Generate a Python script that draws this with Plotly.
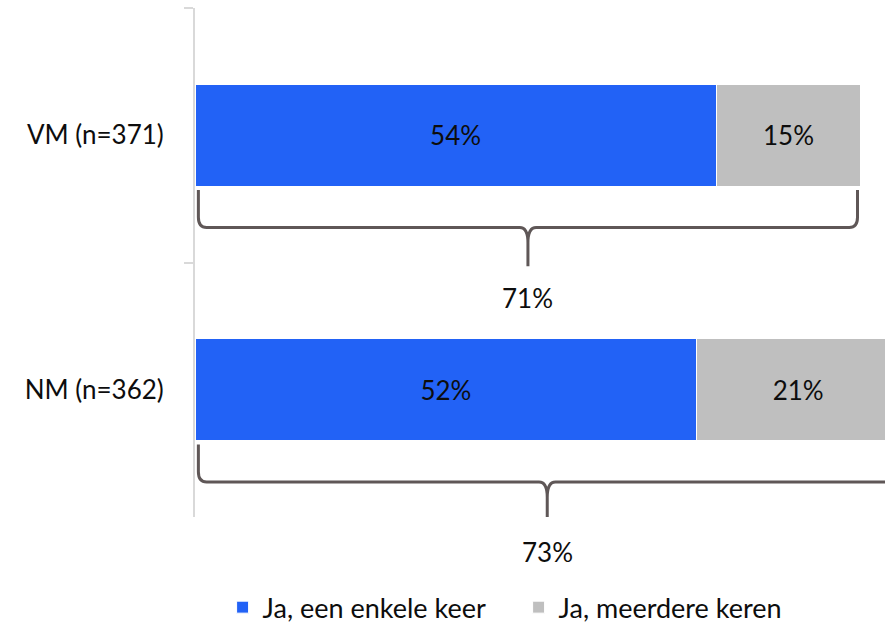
import plotly.graph_objects as go

# ---- data ----
categories = ["VM (n=371)", "NM (n=362)"]
series_names = ["Ja, een enkele keer", "Ja, meerdere keren"]
once = [54, 52]
multiple = [15, 21]
net_labels = [71, 73]

colors = ["#2262F6", "#BFBFBF"]
FONT = "Lato"
TXT = "#0D0D0D"

fig = go.Figure()
for name, vals, col in zip(series_names, [once, multiple], colors):
    fig.add_trace(go.Bar(
        y=categories, x=vals, name=name, orientation="h",
        marker=dict(color=col, line=dict(color="white", width=1)),
        width=0.4,
        text=[f"{v}%" for v in vals], textposition="inside",
        insidetextanchor="middle", textangle=0, constraintext="none",
        textfont=dict(family=FONT, size=26, color=TXT),
        hoverinfo="skip"))

# braces under each bar (geometry derived from the bar totals)
TOP, HOR, TIP = 0.215, 0.362, 0.515
A, C = 0.04, 0.06
B = 0.85
PAD = 0.35
for i, (a, b) in enumerate(zip(once, multiple)):
    total = a + b
    x0, x1, xc = PAD, total - PAD, total / 2
    yt, yh, yp = i + TOP, i + HOR, i + TIP
    path = (f"M{x0},{yt} L{x0},{yh - A} Q{x0},{yh} {x0 + B},{yh} "
            f"L{xc - B},{yh} Q{xc},{yh} {xc},{yh + C} L{xc},{yp} "
            f"M{x1},{yt} L{x1},{yh - A} Q{x1},{yh} {x1 - B},{yh} "
            f"L{xc + B},{yh} Q{xc},{yh} {xc},{yh + C}")
    fig.add_shape(type="path", path=path, xref="x", yref="y",
                  line=dict(color="#5F5757", width=3), layer="above")

for i, (a, b, lab) in enumerate(zip(once, multiple, net_labels)):
    fig.add_annotation(x=(a + b) / 2, y=i + 0.5, xref="x", yref="y",
                       text=f"{lab}%", showarrow=False, yshift=-35,
                       font=dict(family=FONT, size=26, color=TXT))

fig.update_layout(
    width=885, height=624,
    margin=dict(l=195, r=0, t=8, b=107, autoexpand=False),
    paper_bgcolor="white", plot_bgcolor="white",
    barmode="stack",
    showlegend=True,
    legend=dict(orientation="h", x=0.04, xanchor="left", y=-0.178,
                yanchor="middle", traceorder="normal", entrywidth=251,
                font=dict(family=FONT, size=27, color=TXT)),
    xaxis=dict(range=[0, 71.5], visible=False),
    yaxis=dict(type="category", categoryorder="array",
               categoryarray=categories, range=[1.5, -0.5],
               tickson="boundaries", ticks="outside", ticklen=9,
               tickwidth=2, tickcolor="#D9D9D9", showline=True,
               linecolor="#D9D9D9", linewidth=2, showgrid=False,
               zeroline=False, ticklabelstandoff=24,
               tickfont=dict(family=FONT, size=26, color=TXT)),
)

fig.write_html("out.html")
